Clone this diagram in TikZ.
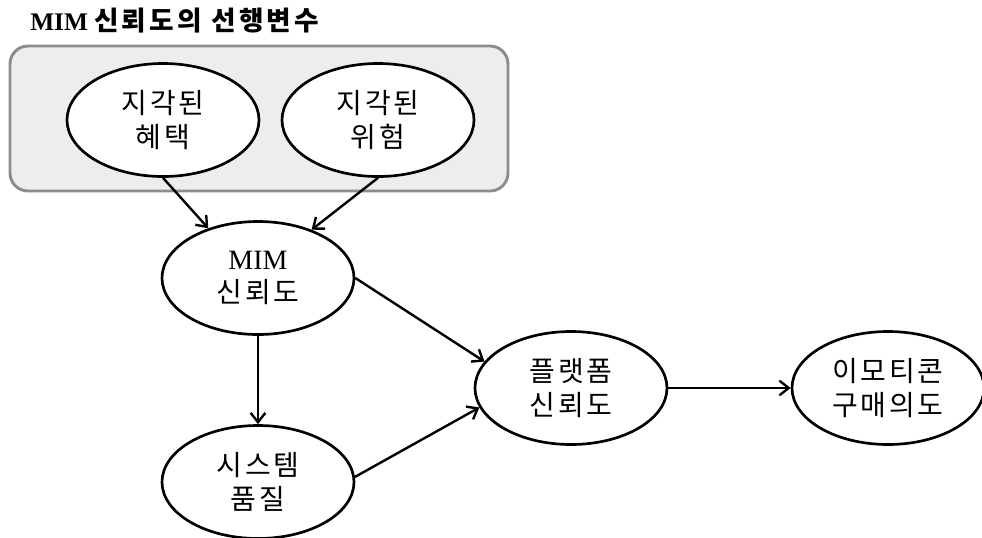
\documentclass[tikz,border=0pt]{standalone}
\usepackage{fontspec}
\setmainfont{Liberation Serif}
\newfontfamily\kr[LetterSpace=12]{Noto Sans CJK KR}
\newfontfamily\krnode[LetterSpace=9]{Noto Sans CJK KR}
\usepackage{xcolor}
\definecolor{cLine}{HTML}{000000}
\definecolor{cGroupFill}{HTML}{EDEDED}
\definecolor{cGroupDraw}{HTML}{8C8C8C}
\usetikzlibrary{positioning,arrows.meta,shapes.geometric}
\tikzset{
  node-factor/.style={draw=cLine,line width=2pt,ellipse,fill=white,
    minimum width=144pt,minimum height=84.75pt,inner sep=0pt,align=center,
    font=\fontsize{21}{25}\selectfont\krnode},
  group-box/.style={draw=cGroupDraw,line width=2.2pt,fill=cGroupFill,
    rounded corners=13.5pt},
  arrow/.style={-{Straight Barb[length=7pt,width=11pt]},line width=1.8pt,draw=cLine},
}

\begin{document}
\begin{tikzpicture}[on grid]
  \useasboundingbox (0,0) rectangle (736.5pt,-402.75pt);
  % 선행변수 그룹
  \node[anchor=base west,inner sep=0pt,font=\fontsize{19}{22}\selectfont\bfseries] (title)
    at (22.5pt,-22.5pt) {MIM {\kr\fontsize{20}{22}\selectfont 신뢰도의 선행변수}};
  \draw[group-box] (7.5pt,-34.5pt) rectangle (381pt,-143.25pt);
  \node[node-factor] (benefit) at (122.25pt,-90pt) {지각된\\혜택};
  \node[node-factor,right=161.25pt of benefit] (risk) {지각된\\위험};
  % 신뢰도 / 결과
  \node[node-factor,below right=118.5pt and 71.25pt of benefit] (mim)
    {{\rmfamily\fontsize{21}{25}\selectfont MIM}\\신뢰도};
  \node[node-factor,below=153pt of mim] (system) {시스템\\품질};
  \node[node-factor,below right=82.5pt and 234.75pt of mim] (platform) {플랫폼\\신뢰도};
  \node[node-factor,right=237.75pt of platform] (intent) {이모티콘\\구매의도};
  \draw[arrow] (benefit.south) -- (mim.135);
  \draw[arrow] (risk.south)    -- (mim.42);
  \draw[arrow] (mim.south)     -- (system.north);
  \draw[arrow] (mim.east)      -- (platform.163);
  \draw[arrow] (system.3)      -- (platform.192);
  \draw[arrow] (platform.east) -- (intent.west);
\end{tikzpicture}
\end{document}
